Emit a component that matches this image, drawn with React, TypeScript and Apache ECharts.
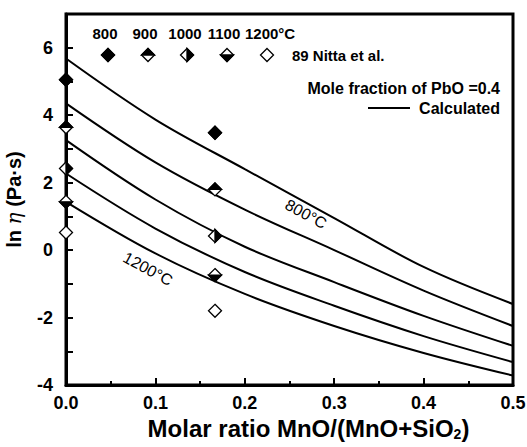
import React, { useEffect, useRef } from "react";
import * as echarts from "echarts";

// ---- data ----
const curveX = [0, 0.1, 0.2, 0.3, 0.4, 0.5];
const calc800 = [5.68, 3.87, 2.4, 0.95, -0.5, -1.6];
const calc900 = [4.35, 2.6, 1.2, 0.0, -1.2, -2.25];
const calc1000 = [3.26, 1.5, 0.1, -0.95, -1.95, -2.84];
const calc1100 = [2.27, 0.64, -0.65, -1.65, -2.55, -3.32];
const calc1200 = [1.43, -0.1, -1.3, -2.25, -3.05, -3.72];

const expX = [0, 1 / 6];
const exp800 = [5.05, 3.48];
const exp900 = [3.64, 1.8];
const exp1000 = [2.42, 0.42];
const exp1100 = [1.43, -0.74];
const exp1200 = [0.52, -1.8];

const tempLabels = ["800", "900", "1000", "1100", "1200°C"];
const fills = ["full", "top", "right", "bottom", "none"];
const xTicks = [0, 0.1, 0.2, 0.3, 0.4, 0.5];
const yTickLabels = [-4, -2, 0, 2, 4, 6];

const FONT = "'Liberation Sans', Arial, sans-serif";

function diamondParts(cx: number, cy: number, r: number, fill: string, lw: number) {
  const top = [cx, cy - r], right = [cx + r, cy], bottom = [cx, cy + r], left = [cx - r, cy];
  const children: any[] = [
    { type: "polygon", shape: { points: [top, right, bottom, left] }, style: { fill: "#fff", stroke: "#000", lineWidth: lw } },
  ];
  let half: number[][] | null = null;
  if (fill === "full") half = [top, right, bottom, left];
  if (fill === "top") half = [top, right, left];
  if (fill === "bottom") half = [left, right, bottom];
  if (fill === "right") half = [top, right, bottom];
  if (half) children.push({ type: "polygon", shape: { points: half }, style: { fill: "#000", stroke: "#000", lineWidth: lw } });
  return children;
}

export default function App() {
  const ref = useRef<HTMLDivElement>(null);
  useEffect(() => {
    if (!ref.current) return;
    const chart = echarts.init(ref.current, null, { renderer: "svg" });
    const calcs = [calc800, calc900, calc1000, calc1100, calc1200];
    const exps = [exp800, exp900, exp1000, exp1100, exp1200];

    const lineSeries = calcs.map((arr, k) => ({
      type: "line",
      name: "calc" + tempLabels[k],
      data: curveX.map((x, i) => [x, arr[i]]),
      smooth: 0.35,
      showSymbol: false,
      lineStyle: { color: "#000", width: 2 },
      z: 3,
    }));

    const markerSeries = exps.map((arr, k) => ({
      type: "custom",
      name: "exp" + tempLabels[k],
      data: expX.map((x, i) => [x, arr[i]]),
      z: 10,
      renderItem: (params: any, api: any) => {
        const p = api.coord([api.value(0), api.value(1)]);
        return { type: "group", children: diamondParts(p[0], p[1], 6.5, fills[k], 1.3) };
      },
    }));

    const legendX = [108, 148, 187, 227, 267];
    const legendTextX = [105, 145, 185, 224, 245];
    const graphics: any[] = [];
    tempLabels.forEach((t, k) => {
      graphics.push({
        type: "text",
        x: legendTextX[k],
        y: 33,
        style: {
          text: t,
          font: `bold 15px ${FONT}`,
          fill: "#000",
          textAlign: k === 4 ? "left" : "center",
          textVerticalAlign: "middle",
        },
      });
      graphics.push({ type: "group", children: diamondParts(legendX[k], 55, 6.5, fills[k], 1.3) });
    });
    graphics.push(
      { type: "text", x: 292, y: 55, style: { text: "89 Nitta et al.", font: `bold 15px ${FONT}`, fill: "#000", textVerticalAlign: "middle" } },
      { type: "text", x: 500, y: 88, style: { text: "Mole fraction of PbO =0.4", font: `bold 16px ${FONT}`, fill: "#000", textAlign: "right", textVerticalAlign: "middle" } },
      { type: "line", shape: { x1: 368, y1: 108, x2: 410, y2: 108 }, style: { stroke: "#000", lineWidth: 2 } },
      { type: "text", x: 500, y: 108, style: { text: "Calculated", font: `bold 16px ${FONT}`, fill: "#000", textAlign: "right", textVerticalAlign: "middle" } },
      { type: "text", x: 306, y: 214, rotation: -0.5, style: { text: "800°C", font: `16px ${FONT}`, fill: "#000", textAlign: "center", textVerticalAlign: "middle" } },
      { type: "text", x: 148, y: 269, rotation: -0.5, style: { text: "1200°C", font: `16px ${FONT}`, fill: "#000", textAlign: "center", textVerticalAlign: "middle" } }
    );

    chart.setOption({
      animation: false,
      backgroundColor: "#fff",
      textStyle: { fontFamily: FONT },
      grid: {
        left: 66,
        top: 14,
        right: 14,
        bottom: 62,
        show: true,
        borderColor: "#000",
        borderWidth: 3,
        containLabel: false,
        outerBoundsMode: "none",
      },
      xAxis: {
        type: "value",
        min: xTicks[0],
        max: xTicks[xTicks.length - 1],
        interval: 0.1,
        splitLine: { show: false },
        axisLine: { onZero: false, lineStyle: { color: "#000", width: 3 } },
        axisTick: { inside: true, length: 7, lineStyle: { color: "#000", width: 2 } },
        minorTick: { show: true, splitNumber: 2, length: 4, lineStyle: { color: "#000", width: 2 } },
        axisLabel: { color: "#000", fontSize: 18, fontWeight: "bold", margin: 9, formatter: (v: number) => v.toFixed(1) },
        name: "Molar ratio MnO/(MnO+SiO{sub|2})",
        nameLocation: "middle",
        nameGap: 31,
        nameTextStyle: {
          color: "#000",
          fontSize: 24,
          fontWeight: "bold",
          padding: [0, 0, 0, 38],
          rich: { sub: { fontSize: 14, fontWeight: "bold", verticalAlign: "bottom", padding: [9, 0, 0, 0] } },
        },
      },
      yAxis: {
        type: "value",
        min: -4,
        max: 7,
        interval: 1,
        splitLine: { show: false },
        axisLine: { onZero: false, lineStyle: { color: "#000", width: 3 } },
        axisTick: { inside: true, length: 7, lineStyle: { color: "#000", width: 2 } },
        axisLabel: {
          color: "#000",
          fontSize: 18,
          fontWeight: "bold",
          margin: 13,
          formatter: (v: number) => (yTickLabels.indexOf(v) >= 0 ? String(v) : ""),
        },
        name: "{b|ln }{i|η}{b| (Pa·s)}",
        nameLocation: "middle",
        nameGap: 42,
        nameTextStyle: {
          color: "#000",
          rich: {
            b: { fontSize: 20, fontWeight: "bold", fontFamily: FONT },
            i: { fontSize: 20, fontStyle: "italic", fontFamily: "'DejaVu Serif', serif" },
          },
        },
      },
      series: [...lineSeries, ...markerSeries],
      graphic: graphics,
    });
    return () => chart.dispose();
  }, []);
  return <div ref={ref} style={{ position: "absolute", left: 0, top: 0, width: 527, height: 447 }} />;
}
